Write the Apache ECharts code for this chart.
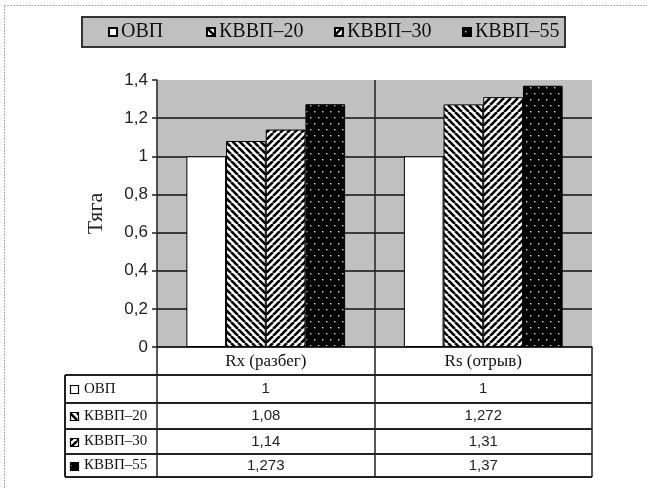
<!DOCTYPE html>
<html><head><meta charset="utf-8">
<script src="https://cdn.jsdelivr.net/npm/echarts@6/dist/echarts.min.js"></script>
<style>html,body{margin:0;padding:0;background:#fff}#c{width:647px;height:488px}</style>
</head><body><div id="c"></div>
<script>
// ---- data ----
const categories = ['Rx (разбег)', 'Rs (отрыв)'];
const seriesNames = ['ОВП', 'КВВП–20', 'КВВП–30', 'КВВП–55'];
const tableLabels = ['ОВП', 'КВВП–20', 'КВВП–30', 'КВВП–55'];
const valuesOVP = [1, 1];
const valuesK20 = [1.08, 1.272];
const valuesK30 = [1.14, 1.31];
const valuesK55 = [1.273, 1.37];
const yMin = 0, yMax = 1.4, yStep = 0.2;
const yName = 'Тяга';

// ---- patterns ----
function stripes(dir) {
  const s = 7, c = document.createElement('canvas');
  c.width = s; c.height = s;
  const g = c.getContext('2d');
  g.fillStyle = '#fff'; g.fillRect(0, 0, s, s);
  g.strokeStyle = '#000'; g.lineWidth = 2.6;
  g.beginPath();
  for (let k = -1; k <= 1; k++) {
    if (dir === 'back') { g.moveTo(k * s, 0); g.lineTo(k * s + s, s); }
    else { g.moveTo(k * s, s); g.lineTo(k * s + s, 0); }
  }
  g.stroke();
  return c;
}
function dots() {
  const w = 8, h = 12, c = document.createElement('canvas');
  c.width = w; c.height = h;
  const g = c.getContext('2d');
  g.fillStyle = '#000'; g.fillRect(0, 0, w, h);
  g.fillStyle = '#d8d8d8';
  g.fillRect(2, 3, 1.4, 1.4);
  g.fillRect(6, 9, 1.4, 1.4);
  return c;
}
const fills = [
  '#ffffff',
  { image: stripes('back'), repeat: 'repeat' },
  { image: stripes('fwd'), repeat: 'repeat' },
  { image: dots(), repeat: 'repeat' }
];
const seriesData = [valuesOVP, valuesK20, valuesK30, valuesK55];

const SERIF = "'Liberation Serif','Times New Roman',serif";
const SANS = "'Liberation Sans',Arial,sans-serif";
const fmt = v => String(v).replace('.', ',');

const chart = echarts.init(document.getElementById('c'), null, { renderer: 'canvas' });

const legendLefts = [108, 206, 334, 462];
const option = {
  backgroundColor: '#fff',
  animation: false,
  grid: { left: 157, right: 55, top: 80, bottom: 141, show: true, backgroundColor: '#c0c0c0', borderWidth: 0 },
  legend: seriesNames.map((n, i) => ({
    data: [n], left: legendLefts[i], top: 21, padding: 0, itemWidth: 8, itemHeight: 8,
    icon: 'rect', selectedMode: false, itemGap: 0,
    textStyle: { fontFamily: SERIF, fontSize: 20, color: '#111', lineHeight: 22, padding: [0, 0, 0, -1] }
  })),
  xAxis: {
    type: 'category', data: categories,
    axisLine: { show: true, lineStyle: { color: '#222', width: 1.5 } },
    axisTick: { show: true, length: 130, lineStyle: { color: '#222', width: 1.5 } },
    splitLine: { show: true, showMinLine: false, showMaxLine: false, lineStyle: { color: '#222', width: 1.5 } },
    axisLabel: { fontFamily: SERIF, fontSize: 17, color: '#111', margin: 6 }
  },
  yAxis: {
    type: 'value', min: yMin, max: yMax, interval: yStep,
    name: yName, nameLocation: 'middle', nameGap: 50, nameRotate: 90,
    nameTextStyle: { fontFamily: SERIF, fontSize: 22, color: '#222' },
    axisLine: { show: true, lineStyle: { color: '#222', width: 1.5 } },
    axisTick: { show: true, length: 5, lineStyle: { color: '#222', width: 1.5 } },
    splitLine: { show: true, showMaxLine: false, lineStyle: { color: '#111', width: 1.5 } },
    axisLabel: { fontFamily: SANS, fontSize: 17, color: '#222', margin: 9,
      formatter: v => fmt(Math.round(v * 10) / 10) }
  },
  series: seriesNames.map((n, i) => ({
    name: n, type: 'bar', data: seriesData[i],
    barGap: '0%', barCategoryGap: '27%',
    itemStyle: { color: fills[i], borderColor: '#000', borderWidth: 1 }
  }))
};
chart.setOption(option);

// ---- table & frame ----
const gridRight = 592;
const tableLeft = 65;
const rowLines = [375, 403, 429, 454, 477];
const elems = [];
elems.push({ type: 'rect', z: -10, shape: { x: 4.5, y: 5.5, width: 700, height: 600 },
  style: { fill: 'none', stroke: '#999', lineWidth: 1, lineDash: [1.5, 1.5] } });
elems.push({ type: 'rect', z: -10, shape: { x: 82, y: 17, width: 483, height: 30 },
  style: { fill: '#c0c0c0', stroke: '#333', lineWidth: 2 } });
rowLines.forEach(y => elems.push({ type: 'line', shape: { x1: tableLeft, y1: y, x2: gridRight, y2: y },
  style: { stroke: '#222', lineWidth: 2 } }));
elems.push({ type: 'line', shape: { x1: tableLeft, y1: rowLines[0], x2: tableLeft, y2: rowLines[rowLines.length - 1] },
  style: { stroke: '#222', lineWidth: 2 } });
tableLabels.forEach((lab, r) => {
  const cy = (rowLines[r] + rowLines[r + 1]) / 2;
  elems.push({ type: 'rect', shape: { x: 70.5, y: Math.round(cy - 4) + 0.5, width: 8, height: 8 },
    style: { fill: fills[r], stroke: '#000', lineWidth: 1.2 } });
  elems.push({ type: 'text', x: 84, y: cy, style: { text: lab, font: '15px ' + SERIF, fill: '#111',
    textVerticalAlign: 'middle', verticalAlign: 'middle' } });
  categories.forEach((cat, ci) => {
    const cx = chart.convertToPixel({ xAxisIndex: 0 }, cat);
    elems.push({ type: 'text', x: cx, y: cy, style: { text: fmt(seriesData[r][ci]), font: '15px ' + SANS,
      fill: '#222', align: 'center', textAlign: 'center', verticalAlign: 'middle', textVerticalAlign: 'middle' } });
  });
});
chart.setOption({ graphic: { elements: elems } });
</script>
</body></html>
